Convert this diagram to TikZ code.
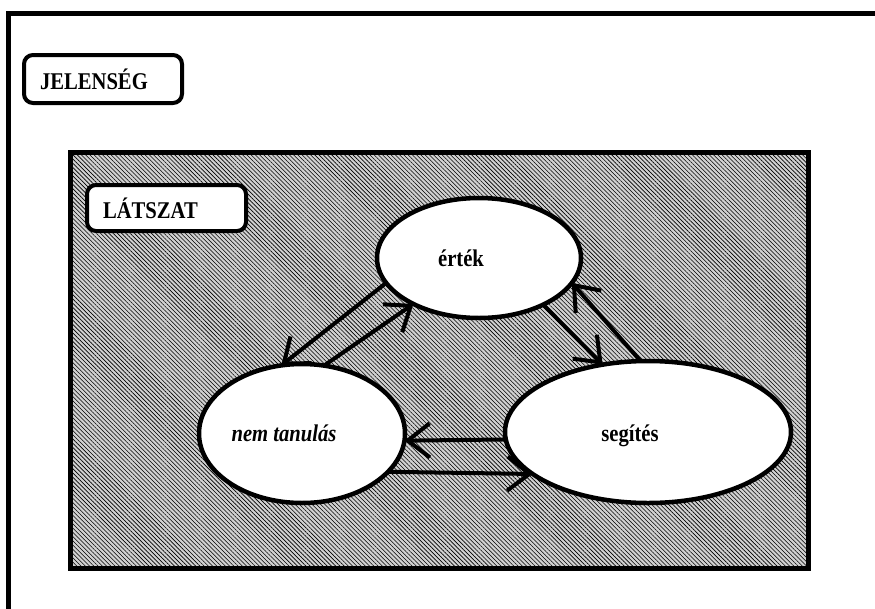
\documentclass[tikz,border=0pt]{standalone}
\usepackage{fontspec}
\setmainfont{Liberation Serif}[FakeStretch=0.86]
\usetikzlibrary{arrows.meta,patterns.meta,shapes.geometric}

\begin{document}
\begin{tikzpicture}[x=1pt,y=-1pt,
    bubble/.style={ellipse,draw,line width=4.5pt,fill=white,inner sep=0pt,outer sep=0pt},
    txt/.style={font=\fontsize{24}{28}\selectfont\bfseries,xshift=-18pt},
    tag/.style={draw,line width=4pt,rounded corners=9pt,fill=white,align=left,
        inner xsep=16pt,inner ysep=0pt,font=\fontsize{24}{28}\selectfont\bfseries},
    arr/.style={line width=4pt,-{Straight Barb[length=22pt,width=34pt]}}]
    \useasboundingbox (0,0) rectangle (875,608);
    \begin{scope}
        \clip (0,0) rectangle (875,608);
        \draw[line width=5pt] (8,13) rectangle (900,640);
    \end{scope}
    \draw[line width=5pt,preaction={fill=black!18},
        pattern={Lines[angle=-45,distance=3pt,line width=0.6pt]}] (70,152) rectangle (808,568);

    \node[tag,text width=126pt,minimum height=48pt] (jelenseg) at (103,79) {JELENSÉG};
    \node[tag,text width=127pt,minimum height=46pt] (latszat) at (166.5,208) {LÁTSZAT};

    \node[bubble,minimum width=204pt,minimum height=120pt,
        label={[txt]center:érték}] (ertek) at (479,258) {};
    \node[bubble,minimum width=206pt,minimum height=139pt,
        label={[txt]center:\textit{nem tanulás}}] (nem) at (302,433.5) {};
    \node[bubble,minimum width=286pt,minimum height=142pt,
        label={[txt,yshift=-4pt]center:segítés}] (segites) at (648,432) {};

    \path[arr]
    (ertek.195) edge (nem.107)
    (nem.72) edge (ertek.215)
    (ertek.324) edge (segites.124)
    (segites.96) edge (ertek.345)
    (segites.183) edge (nem.356)
    (nem.336) edge (segites.200);
\end{tikzpicture}
\end{document}
